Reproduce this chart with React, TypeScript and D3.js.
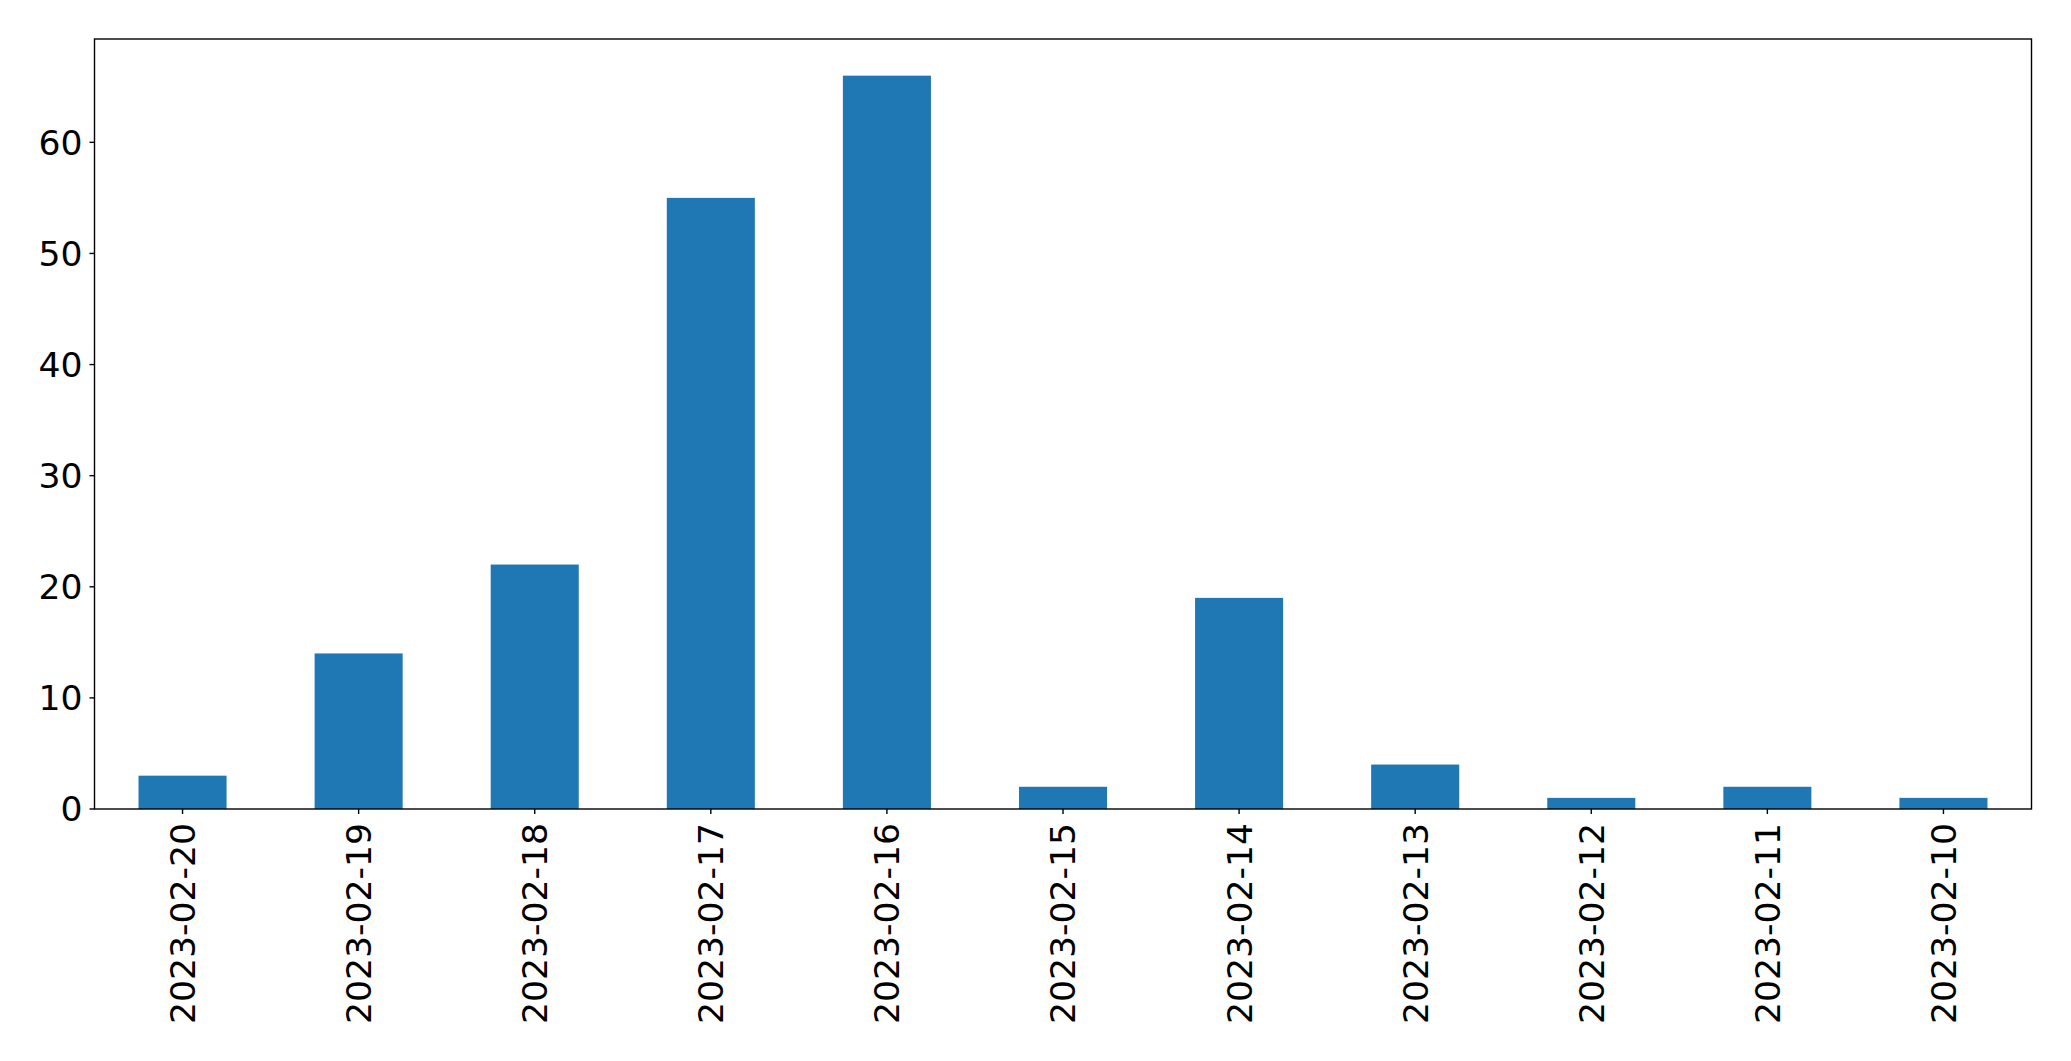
import React from "react";
import * as d3 from "d3";

const categories = ["2023-02-20","2023-02-19","2023-02-18","2023-02-17","2023-02-16","2023-02-15","2023-02-14","2023-02-13","2023-02-12","2023-02-11","2023-02-10"];
const values = [3, 14, 22, 55, 66, 2, 19, 4, 1, 2, 1];
const yTicks = [0, 10, 20, 30, 40, 50, 60];

const W = 2071, H = 1061;
const L = 94.5, R = 2031.5, T = 39, B = 809;

export default function App() {
  const x = d3.scaleLinear().domain([-0.5, categories.length - 0.5]).range([L, R]);
  const y = d3.scaleLinear().domain([0, 66 * 1.05]).range([B, T]);
  const bw = x(0.25) - x(-0.25);
  const font = "DejaVu Sans";
  return (
    <svg width={W} height={H} style={{ position: "absolute", left: 0, top: 0 }}>
      <rect x={0} y={0} width={W} height={H} fill="#fff" />
      {values.map((v, i) => (
        <rect key={i} x={x(i) - bw / 2} y={y(v)} width={bw} height={y(0) - y(v)} fill="#1f77b4" />
      ))}
      <rect x={L} y={T} width={R - L} height={B - T} fill="none" stroke="#000" strokeWidth={1.4} />
      {yTicks.map((t) => (
        <g key={t}>
          <line x1={L - 5} x2={L} y1={y(t)} y2={y(t)} stroke="#000" strokeWidth={1.4} />
          <text x={L - 12} y={y(t)} dy="0.36em" textAnchor="end" fontFamily={font} fontSize={34.6} fill="#000">{t}</text>
        </g>
      ))}
      {categories.map((c, i) => (
        <g key={c}>
          <line x1={x(i)} x2={x(i)} y1={B} y2={B + 5} stroke="#000" strokeWidth={1.4} />
          <text transform={`translate(${x(i)},${B + 14}) rotate(-90)`} dy="0.36em" textAnchor="end" fontFamily={font} fontSize={34.6} fill="#000">{c}</text>
        </g>
      ))}
    </svg>
  );
}
